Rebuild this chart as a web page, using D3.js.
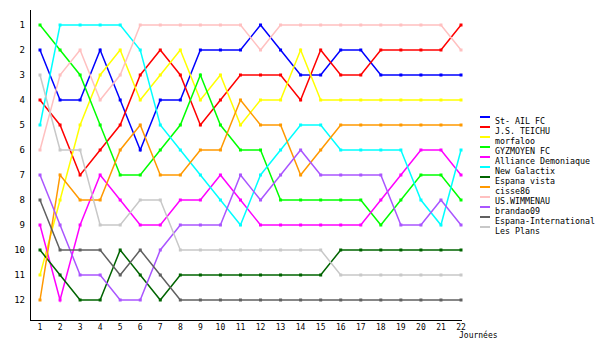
<!DOCTYPE html>
<html>
<head>
<meta charset="utf-8">
<script src="https://cdn.jsdelivr.net/npm/d3@7"></script>
<style>
  body { margin: 0; background: #fff; }
  svg { display: block; font-family: "DejaVu Sans Mono", monospace; }
</style>
</head>
<body>
<svg id="chart"></svg>
<script>
(function() {

const rounds = d3.range(1, 23);
const ranks = d3.range(1, 13);
const xTitle = "Journées";

const teams = ["St- AIL FC", "J.S. TEICHU", "morfaloo", "GYZMOYEN FC", "Alliance Demoniaque",
  "New Galactix", "Espana vista", "cisse86", "US.WIMMENAU", "brandao09",
  "Espana-International", "Les Plans"];

const colors = ["#0000ff", "#ff0000", "#ffff00", "#00ff00", "#ff00ff",
  "#00ffff", "#006400", "#ff9900", "#ffc0c0", "#aa55ff",
  "#606060", "#c8c8c8"];

// classement par journée
const stAil      = [2,4,4,2,4,6,4,4,2,2,2,1,2,3,3,2,2,3,3,3,3,3];
const teichu     = [4,5,7,6,5,3,2,3,5,4,3,3,3,4,2,3,3,2,2,2,2,1];
const morfaloo   = [11,8,5,3,2,4,3,2,4,3,5,4,4,2,4,4,4,4,4,4,4,4];
const gyzmoyen   = [1,2,3,5,7,7,6,5,3,5,6,6,8,8,8,8,8,9,8,7,7,8];
const alliance   = [9,12,9,7,8,9,9,8,8,7,8,9,9,9,9,9,9,8,7,6,6,7];
const galactix   = [5,1,1,1,1,2,5,6,7,8,9,7,6,5,5,6,6,6,6,8,9,6];
const espVista   = [10,11,12,12,10,11,12,11,11,11,11,11,11,11,11,10,10,10,10,10,10,10];
const cisse86    = [12,7,8,8,6,5,7,7,6,6,4,5,5,7,6,5,5,5,5,5,5,5];
const wimmenau   = [6,3,2,4,3,1,1,1,1,1,1,2,1,1,1,1,1,1,1,1,1,2];
const brandao    = [7,9,11,11,12,12,10,9,9,9,7,8,7,6,7,7,7,7,9,9,8,9];
const espInter   = [8,10,10,10,11,10,11,12,12,12,12,12,12,12,12,12,12,12,12,12,12,12];
const lesPlans   = [3,6,6,9,9,8,8,10,10,10,10,10,10,10,10,11,11,11,11,11,11,11];

const series = [stAil, teichu, morfaloo, gyzmoyen, alliance, galactix,
  espVista, cisse86, wimmenau, brandao, espInter, lesPlans];

const W = 600, H = 350;
const svg = d3.select("#chart").attr("width", W).attr("height", H);

const x = d3.scaleLinear().domain([1, 22]).range([40, 461]);
const y = d3.scaleLinear().domain([1, 12]).range([25, 300]);

// axes
svg.append("line")
    .attr("x1", 30).attr("x2", 30).attr("y1", 10).attr("y2", 320)
    .attr("stroke", "#000").attr("shape-rendering", "crispEdges");
svg.append("line")
    .attr("x1", 30).attr("x2", 462).attr("y1", 320).attr("y2", 320)
    .attr("stroke", "#000").attr("shape-rendering", "crispEdges");

svg.append("g").selectAll("text")
    .data(ranks)
    .join("text")
    .attr("x", 25)
    .attr("y", d => y(d) + 3)
    .attr("text-anchor", "end")
    .attr("font-size", 9)
    .text(d => d);

svg.append("g").selectAll("text")
    .data(rounds)
    .join("text")
    .attr("x", d => x(d))
    .attr("y", 330)
    .attr("text-anchor", "middle")
    .attr("font-size", 8)
    .text(d => d);

svg.append("text")
    .attr("x", 459).attr("y", 338)
    .attr("font-size", 8)
    .text(xTitle);

// lignes
const line = d3.line()
    .x((d, i) => x(rounds[i]))
    .y(d => y(d));

series.forEach((s, k) => {
  const g = svg.append("g");
  g.append("path")
      .datum(s)
      .attr("fill", "none")
      .attr("stroke", colors[k])
      .attr("stroke-width", 1.5)
      .attr("d", line);
  g.selectAll("rect")
      .data(s)
      .join("rect")
      .attr("x", (d, i) => x(rounds[i]) - 1.5)
      .attr("y", d => y(d) - 1.5)
      .attr("width", 3)
      .attr("height", 3)
      .attr("fill", colors[k]);
});

// légende
const legend = svg.append("g");
teams.forEach((t, i) => {
  legend.append("rect")
      .attr("x", 480).attr("y", 116 + i * 10)
      .attr("width", 10).attr("height", 2)
      .attr("fill", colors[i]);
  legend.append("text")
      .attr("x", 495).attr("y", 123.5 + i * 10)
      .attr("font-size", 8.3)
      .text(t);
});

})();
</script>
</body>
</html>
